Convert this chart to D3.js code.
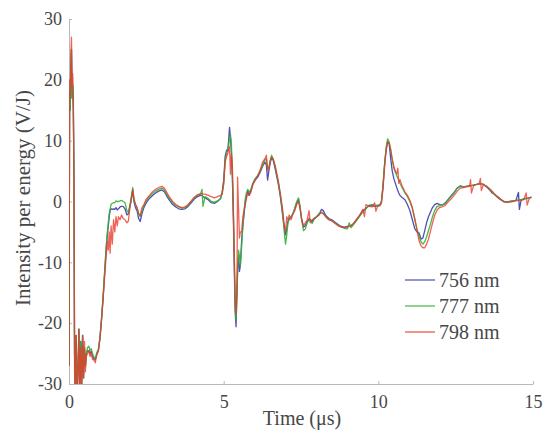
<!DOCTYPE html>
<html>
<head>
<meta charset="utf-8">
<script src="https://cdn.jsdelivr.net/npm/d3@7"></script>
<style>
  html, body { margin: 0; padding: 0; background: #fff; }
</style>
</head>
<body>
<svg id="chart" width="547" height="435"></svg>
<script>
// Time axis (µs), shared by the three wavelength traces
const timeUs = [
  0.00, 0.02, 0.04, 0.06, 0.08, 0.10, 0.12, 0.14, 0.16, 0.18, 0.20, 0.23, 0.26, 0.29, 0.32, 0.35, 0.38, 0.41, 0.44, 0.47,
  0.50, 0.53, 0.56, 0.60, 0.64, 0.68, 0.72, 0.76, 0.80, 0.85, 0.90, 0.95, 1.00, 1.05, 1.10, 1.15, 1.20, 1.24, 1.27, 1.30,
  1.33, 1.36, 1.40, 1.44, 1.48, 1.52, 1.56, 1.60, 1.65, 1.70, 1.75, 1.81, 1.87, 1.92, 1.97, 2.02, 2.06, 2.10, 2.15, 2.20,
  2.25, 2.30, 2.36, 2.42, 2.50, 2.60, 2.70, 2.80, 2.90, 3.00, 3.08, 3.16, 3.25, 3.35, 3.45, 3.55, 3.65, 3.75, 3.85, 3.95,
  4.05, 4.15, 4.25, 4.30, 4.33, 4.40, 4.50, 4.60, 4.70, 4.80, 4.90, 4.95, 5.00, 5.05, 5.10, 5.13, 5.16, 5.19, 5.22, 5.25,
  5.28, 5.31, 5.34, 5.37, 5.40, 5.43, 5.45, 5.48, 5.51, 5.54, 5.58, 5.62, 5.66, 5.70, 5.74, 5.78, 5.82, 5.88, 5.94, 6.02,
  6.10, 6.18, 6.26, 6.33, 6.38, 6.42, 6.46, 6.51, 6.55, 6.60, 6.66, 6.72, 6.78, 6.84, 6.90, 6.95, 7.00, 7.04, 7.08, 7.12,
  7.18, 7.24, 7.30, 7.36, 7.42, 7.47, 7.52, 7.58, 7.64, 7.70, 7.76, 7.80, 7.86, 7.92, 8.00, 8.08, 8.16, 8.22, 8.30, 8.40,
  8.50, 8.60, 8.70, 8.80, 8.90, 9.00, 9.06, 9.12, 9.20, 9.30, 9.40, 9.50, 9.55, 9.60, 9.70, 9.80, 9.88, 9.92, 9.98, 10.05,
  10.10, 10.15, 10.20, 10.25, 10.30, 10.35, 10.40, 10.45, 10.50, 10.55, 10.60, 10.63, 10.66, 10.70, 10.78, 10.86, 10.94, 11.02, 11.10, 11.18,
  11.25, 11.32, 11.38, 11.44, 11.50, 11.56, 11.62, 11.68, 11.75, 11.82, 11.90, 11.98, 12.06, 12.15, 12.25, 12.35, 12.45, 12.55, 12.65, 12.75,
  12.85, 12.95, 12.98, 13.01, 13.08, 13.18, 13.26, 13.30, 13.33, 13.40, 13.50, 13.60, 13.68, 13.75, 13.85, 13.95, 14.05, 14.15, 14.25, 14.35,
  14.45, 14.53, 14.56, 14.62, 14.70, 14.78, 14.81, 14.88, 14.95
];

// Intensity per energy (V/J) at 756 nm
const nm756 = [
  -27, 18, 15, 22, 25, 17, 19, 15, 5, -25, -31, -22, -31, -28, -21, -31, -23, -30, -22, -29,
  -24, -27, -25, -24.5, -24.5, -25, -24.6, -25.5, -25.8, -26, -25, -24.5, -22.5, -19.5, -16, -12, -8, -5.5, -4, -2.5,
  -1.5, -1.2, -1.3, -1.2, -1.3, -1.0, -1.4, -1.2, -0.9, -0.8, -0.8, -1.2, -2.2, -2.0, -0.8, 0.5, 1.8, 0.0, -1.0, -1.5,
  -2.8, -3.3, -2.0, -1.0, -0.2, 0.5, 1.0, 1.4, 1.7, 1.9, 1.6, 0.9, 0.2, -0.5, -0.9, -1.2, -1.3, -1.2, -0.8, -0.2,
  0.4, 0.8, 1.0, 1.0, 0.8, 0.6, 0.3, -0.2, -0.3, 0.0, 0.5, 1.5, 3.5, 7.5, 8.5, 8.3, 10.0, 12.2, 10.5, 8.0,
  4.0, -2.0, -10.0, -18.0, -20.6, -15.0, -11.0, -9.0, -11.5, -10.5, -6.5, -4.0, -2.0, 0.0, 1.0, 1.8, 1.0, 1.8, 2.8, 3.5,
  4.0, 4.8, 5.8, 6.5, 6.0, 3.5, 5.0, 6.5, 7.2, 6.8, 5.5, 4.0, 2.5, 0.5, -2.0, -4.0, -5.5, -4.5, -3.2, -2.8,
  -2.6, -2.0, -1.2, -0.3, 0.3, -1.0, -2.8, -4.2, -4.0, -3.3, -2.8, -3.0, -3.3, -2.8, -2.5, -2.2, -1.3, -1.5, -2.3, -2.8,
  -3.0, -3.4, -3.8, -4.1, -4.2, -4.1, -4.0, -4.0, -3.6, -3.0, -2.3, -1.5, -1.3, -1.1, -0.7, -0.7, -0.8, -0.8, -0.7, -0.6,
  0.0, 2.5, 6.0, 8.5, 9.8, 9.5, 7.0, 5.0, 3.8, 3.0, 2.2, 1.8, 1.4, 1.0, 0.6, 0.3, -0.5, -1.5, -3.0, -4.5,
  -5.0, -5.2, -6.2, -6.0, -4.8, -3.5, -2.5, -1.8, -1.0, -0.5, -0.3, -0.5, -0.6, -0.3, 0.3, 0.9, 1.5, 2.2, 2.5, 2.4,
  2.5, 2.6, 2.6, 2.6, 2.7, 2.8, 2.9, 2.9, 2.9, 2.8, 2.4, 1.9, 1.4, 1.2, 0.7, 0.3, 0.0, -0.1, 0.0, 0.1,
  0.2, 1.5, -1.3, 0.3, 0.4, 0.5, 0.5, 0.6, 0.7
];

// Intensity per energy (V/J) at 777 nm
const nm777 = [
  -27, 18, 15, 22, 25, 17, 19, 15, 5, -25, -31, -22, -31, -28, -21, -31, -23, -30, -22, -29,
  -24, -27, -25, -24, -23.8, -24.5, -24.2, -25, -25.5, -25.8, -24.8, -24.3, -22.3, -19.2, -15.8, -11.5, -7.5, -5, -3.5, -2,
  -1.2, -0.5, -0.3, -0.2, -0.2, 0.1, 0.0, 0.0, 0.1, 0.2, 0.0, -0.2, -1.5, -1.8, -0.5, 1.0, 2.3, 0.3, -0.5, -1.0,
  -2.0, -2.5, -1.5, -0.7, 0.2, 0.8, 1.3, 1.7, 2.0, 2.2, 1.9, 1.2, 0.5, -0.2, -0.6, -0.9, -1.1, -1.0, -0.6, 0.0,
  0.6, 1.0, 1.2, 2.0, -0.8, 0.8, 0.5, 0.0, -0.1, 0.1, 0.5, 1.3, 3.0, 7.0, 8.0, 8.5, 9.0, 10.5, 11.0, 9.5,
  5.0, -1.0, -8.0, -17.0, -19.5, -15.5, -12.0, -8.0, -9.0, -10.5, -7.5, -4.0, -1.5, 0.5, 1.5, 2.0, 1.5, 2.0, 3.0, 3.8,
  4.3, 5.0, 6.0, 6.8, 7.0, 5.5, 5.5, 6.8, 7.6, 7.0, 5.8, 4.3, 2.8, 0.8, -1.5, -4.5, -7.0, -5.5, -3.5, -3.0,
  -2.5, -2.0, -1.0, 0.0, 0.6, -0.8, -3.0, -4.8, -4.5, -3.5, -3.0, -3.2, -3.6, -3.0, -2.5, -2.0, -1.8, -2.0, -2.5, -3.0,
  -3.2, -3.5, -3.9, -4.2, -4.4, -4.5, -3.5, -4.3, -3.8, -3.1, -2.4, -1.7, -1.5, -1.2, -0.6, -0.5, -0.6, -0.6, -0.6, -0.5,
  0.0, 2.5, 6.0, 8.8, 10.3, 9.8, 8.5, 6.8, 5.5, 4.8, 4.2, 3.8, 3.6, 3.0, 2.2, 1.4, 0.8, 0.0, -1.2, -3.0,
  -4.5, -5.8, -6.6, -7.0, -6.6, -5.8, -4.8, -3.8, -2.5, -1.5, -0.8, -0.7, -0.6, -0.4, 0.2, 0.8, 1.4, 2.2, 2.6, 2.4,
  2.5, 2.6, 2.6, 2.6, 2.7, 2.8, 2.9, 2.9, 2.9, 2.8, 2.5, 2.0, 1.6, 1.2, 0.8, 0.4, 0.0, -0.1, 0.0, 0.1,
  0.2, 0.3, 0.3, 0.3, 0.4, 0.5, 0.5, 0.6, 0.7
];

// Intensity per energy (V/J) at 798 nm
const nm798 = [
  -27, 20, 17, 24, 27, 19, 21, 18, 3, -28, -31, -22, -31, -30, -21, -31, -24, -31, -22, -29,
  -23, -28, -25.5, -25, -24.5, -25.5, -24.8, -26, -26, -26.5, -25.2, -24.6, -22.6, -19.6, -16.2, -12.5, -9, -6.5, -8, -5,
  -8.5, -4, -7, -3, -5, -2.5, -4, -2.5, -3, -2.2, -2.8, -3, -3.5, -3.2, -1.0, 0.5, 2.0, 0.5, -0.5, -1.0,
  -2.0, -2.3, -1.0, -0.5, 0.4, 1.0, 1.6, 2.0, 2.3, 2.5, 2.2, 1.5, 0.7, 0.0, -0.5, -0.8, -1.0, -0.9, -0.5, 0.1,
  0.7, 1.1, 1.3, 1.3, 1.2, 1.2, 1.0, 0.8, 0.6, 0.8, 1.0, 1.2, 2.8, 6.5, 7.5, 7.8, 8.5, 9.0, 4.5, 7.8,
  6.0, 0.0, -8.0, -16.0, -18.5, -13.0, 4.0, -1.0, -6.0, -5.0, -5.0, -2.5, -1.5, -0.5, 0.5, 1.5, 1.0, 1.5, 2.7, 3.6,
  4.2, 5.2, 6.5, 7.0, 7.6, 5.0, 5.5, 6.8, 7.3, 7.0, 6.0, 4.6, 3.0, 1.0, -1.0, -3.5, -5.0, -2.5, -3.0, -2.2,
  -3.0, -2.0, -1.5, -0.5, 0.0, -1.2, -3.0, -4.0, -3.5, -3.0, -1.5, -3.5, -3.0, -2.8, -2.6, -2.2, -1.8, -2.0, -2.5, -3.0,
  -3.2, -3.6, -4.0, -4.2, -4.3, -4.2, -4.1, -4.0, -3.6, -2.9, -2.2, -1.3, -2.5, -0.5, -0.8, -0.9, -0.2, -1.6, -0.8, -0.7,
  -0.3, 2.0, 5.5, 8.3, 9.8, 9.6, 8.5, 7.0, 5.8, 5.0, 4.6, 5.5, 3.0, 3.6, 2.4, 1.6, 1.0, 0.2, -1.0, -2.8,
  -4.8, -6.5, -7.3, -7.6, -7.6, -7.0, -6.2, -5.0, -3.6, -2.3, -1.4, -1.0, -0.9, -0.7, -0.1, 0.4, 1.0, 1.7, 2.2, 2.3,
  2.4, 2.5, 3.6, 1.4, 2.6, 2.8, 2.9, 3.8, 1.8, 2.8, 2.5, 2.1, 1.7, 1.3, 0.8, 0.4, 0.0, -0.1, -0.1, 0.0,
  0.1, 0.2, 0.2, 0.2, 0.3, 1.4, -0.6, 0.5, 0.7
];

const seriesNames = ["756 nm", "777 nm", "798 nm"];
const seriesColors = ["#3c3caa", "#34b034", "#ec3a2c"];
const xTicks = [0, 5, 10, 15];
const yTicks = [-30, -20, -10, 0, 10, 20, 30];

const FONT = "Liberation Serif";
const TEXT_COLOR = "#474747";

const svg = d3.select("#chart");
const margin = { left: 69, right: 14, top: 19, bottom: 51 };
const W = 547, H = 435;

const x = d3.scaleLinear().domain([0, 15]).range([margin.left, W - margin.right]);
const y = d3.scaleLinear().domain([-30, 30]).range([H - margin.bottom, margin.top]);

svg.append("defs").append("clipPath").attr("id", "plot-clip")
  .append("rect")
  .attr("x", x(0)).attr("y", y(30))
  .attr("width", x(15) - x(0)).attr("height", y(-30) - y(30));

// Axes: thin light lines with short inward ticks, plain hyphen minus in labels
const fmt = d => String(d);
const xAxis = svg.append("g")
  .attr("transform", `translate(0,${y(-30)})`)
  .call(d3.axisBottom(x).tickValues(xTicks).tickFormat(fmt).tickSizeInner(-3).tickSizeOuter(0).tickPadding(11));
const yAxis = svg.append("g")
  .attr("transform", `translate(${x(0)},0)`)
  .call(d3.axisLeft(y).tickValues(yTicks).tickFormat(fmt).tickSizeInner(-3).tickSizeOuter(0).tickPadding(7));

[xAxis, yAxis].forEach(g => {
  g.attr("font-family", FONT).attr("font-size", 18);
  g.select(".domain").attr("stroke", "#b8b8b8").attr("stroke-width", 1);
  g.selectAll(".tick line").attr("stroke", "#b8b8b8");
  g.selectAll(".tick text").attr("fill", TEXT_COLOR).attr("font-family", FONT).attr("font-size", 18);
});

// Traces
const traces = [nm756, nm777, nm798];
const line = d3.line()
  .x((d, i) => x(timeUs[i]))
  .y(d => y(d));

const plot = svg.append("g").attr("clip-path", "url(#plot-clip)");
traces.forEach((vals, k) => {
  plot.append("path")
    .datum(vals)
    .attr("fill", "none")
    .attr("stroke", seriesColors[k])
    .attr("stroke-width", 1.3)
    .attr("stroke-opacity", k === 2 ? 0.8 : 0.9)
    .attr("stroke-linejoin", "round")
    .attr("d", line);
});

// Axis titles
svg.append("text")
  .attr("x", 302)
  .attr("y", 425)
  .attr("text-anchor", "middle")
  .attr("font-family", FONT).attr("font-size", 20).attr("fill", TEXT_COLOR)
  .text("Time (\u03bcs)");

svg.append("text")
  .attr("transform", "translate(30,198) rotate(-90)")
  .attr("text-anchor", "middle")
  .attr("font-family", FONT).attr("font-size", 21).attr("fill", TEXT_COLOR)
  .text("Intensity per energy (V/J)");

// Legend
const legend = svg.append("g");
seriesNames.forEach((name, k) => {
  const ly = 280 + k * 26;
  legend.append("line")
    .attr("x1", 405).attr("x2", 435)
    .attr("y1", ly).attr("y2", ly)
    .attr("stroke", seriesColors[k]).attr("stroke-width", 1.1);
  legend.append("text")
    .attr("x", 439).attr("y", ly + 7)
    .attr("font-family", FONT).attr("font-size", 20).attr("fill", TEXT_COLOR)
    .text(name);
});
</script>
</body>
</html>
